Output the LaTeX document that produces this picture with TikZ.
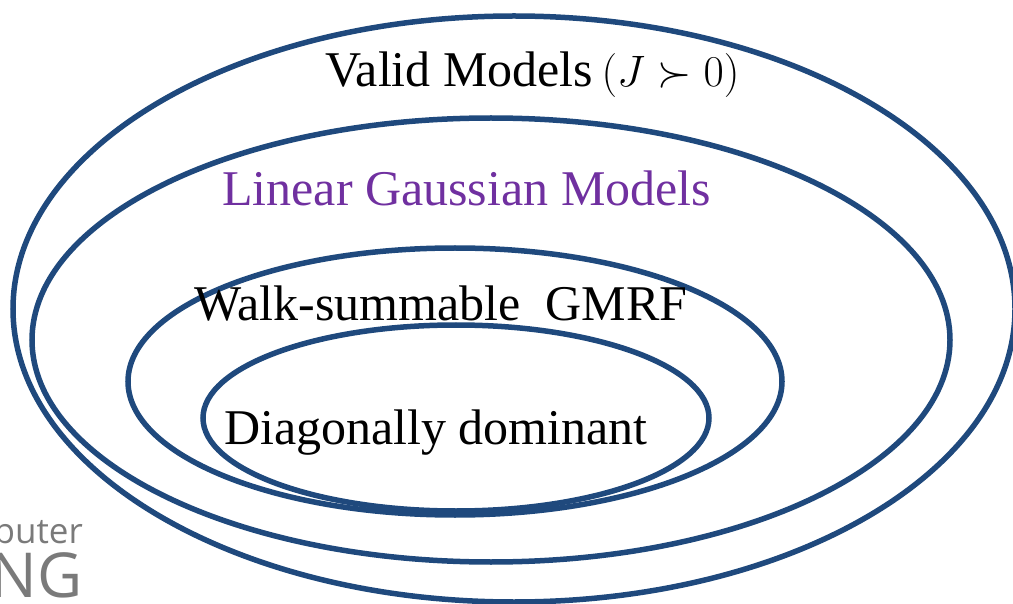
\documentclass[tikz,border=0pt]{standalone}
\usepackage{fix-cm}
\usepackage{fontspec}
\setmainfont{Liberation Serif}
\newfontfamily\wmfont{Open Sans}
\definecolor{setblue}{RGB}{31,73,125}
\definecolor{lgmpurple}{RGB}{112,48,160}
\definecolor{wmgray}{RGB}{122,122,122}
\begin{document}
\begin{tikzpicture}[x=1pt,y=-1pt,
  setline/.style={draw=setblue,line width=5.5pt},
  lbl/.style={font=\fontsize{50}{60}\selectfont, anchor=base west, inner sep=0pt},
  wm/.style={text=wmgray, anchor=base east, inner sep=0pt}]
\useasboundingbox (0,0) rectangle (1013,604);
\clip (0,0) rectangle (1013,604);

% logo fragment in the lower left corner
\node[wm, font=\wmfont\fontsize{35}{35}\selectfont] (wmtop) at (83,543) {Computer};
\node[wm, font=\wmfont\fontsize{62}{62}\selectfont] (wmbot) at (83,597) {NG};

% nested model classes
\draw[setline] (514,309) ellipse [x radius=501, y radius=293];
\draw[setline] (491,340) ellipse [x radius=459, y radius=222];
\draw[setline] (455,381.5) ellipse [x radius=327, y radius=133.5];
\draw[setline] (456,418) ellipse [x radius=253, y radius=93];

% labels
\node[lbl] (valid) at (325,87) {Valid Models\,{\fontsize{44}{52}\selectfont$(J \succ 0)$}};
\node[lbl, text=lgmpurple] (lgm) at (222,206) {Linear Gaussian Models};
\node[lbl] (walk) at (194,320) {Walk-summable\ \ GMRF};
\node[lbl] (diag) at (224,444) {Diagonally dominant};
\end{tikzpicture}
\end{document}
